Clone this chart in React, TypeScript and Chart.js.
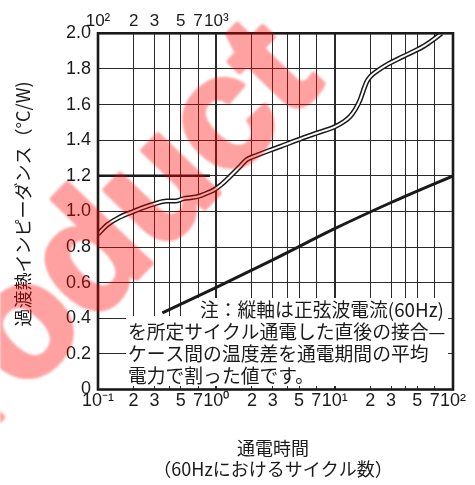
import React, { useEffect, useRef } from "react";
import { Chart, registerables } from "chart.js";

Chart.register(...registerables);

// Upper curve (transient thermal impedance), x = time (s), y = °C/W
const upperTime = [0.1, 0.12, 0.15, 0.2, 0.25, 0.3, 0.38, 0.45, 0.53, 0.62, 0.7, 0.8, 0.95, 1.1, 1.3, 1.6, 1.8, 2.2, 2.8, 3.5, 4.8, 7, 10, 12, 13.5, 15, 16.4, 17.5, 18.7, 20, 23, 27.5, 38, 56, 68, 80];
const upperImpedance = [0.873, 0.925, 0.965, 1.0, 1.025, 1.042, 1.058, 1.058, 1.072, 1.078, 1.084, 1.098, 1.12, 1.15, 1.195, 1.255, 1.29, 1.315, 1.342, 1.365, 1.4, 1.439, 1.475, 1.505, 1.533, 1.575, 1.626, 1.68, 1.729, 1.757, 1.79, 1.823, 1.87, 1.926, 1.964, 2.0];

// Lower straight curve
const lowerTime = [0.35, 1, 3, 10, 30, 100];
const lowerImpedance = [0.43, 0.573, 0.728, 0.903, 1.05, 1.2];

// Thick reference segment at 1.2
const refTime = [0.1, 0.885];
const refImpedance = [1.2, 1.2];

const xTickValues = [0.1, 0.2, 0.3, 0.4, 0.5, 0.7, 1, 2, 3, 4, 5, 7, 10, 20, 30, 40, 50, 70, 100];
const xTickLabels = ["10⁻¹", "2", "3", "", "5", "7", "10⁰", "2", "3", "", "5", "7", "10¹", "2", "3", "", "5", "7", "10²"];
const topTickValues = [100, 200, 300, 400, 500, 700, 1000];
const topTickLabels = ["10²", "2", "3", "", "5", "7", "10³"];
const yTickValues = [0, 0.2, 0.4, 0.6, 0.8, 1.0, 1.2, 1.4, 1.6, 1.8, 2.0];
const yTickLabels = ["0", "0.2", "0.4", "0.6", "0.8", "1.0", "1.2", "1.4", "1.6", "1.8", "2.0"];

const yTitle = "過渡熱インピーダンス（°C/W)";
const xTitleLines = ["通電時間", "（60Hzにおけるサイクル数）"];
const noteLines = [
  "注：縦軸は正弦波電流(60Hz)",
  "を所定サイクル通電した直後の接合—",
  "ケース間の温度差を通電期間の平均",
  "電力で割った値です。",
];
const watermarkText = "Product";

const INK = "#1a1a1a";
const CJK = '"Noto Sans CJK JP", "Noto Sans CJK SC", sans-serif';
const LATIN = '"Liberation Sans", Arial, sans-serif';

const toPoints = (xs: number[], ys: number[]) => xs.map((x, i) => ({ x, y: ys[i] }));

const decorPlugin = {
  id: "decor",
  beforeDatasetsDraw(chart: any) {
    const { ctx, chartArea: a } = chart;
    ctx.save();
    ctx.fillStyle = "#ffffff";
    const boxR = a.right - 5;
    ctx.fillRect(a.left + 100, a.bottom - 91.5, boxR - (a.left + 100), 18);
    ctx.fillRect(a.left + 28, a.bottom - 73.5, boxR - (a.left + 28), 70);
    ctx.fillStyle = INK;
    ctx.font = `18.8px ${CJK}`;
    ctx.textBaseline = "middle";
    ctx.textAlign = "left";
    const lh = 22;
    const y0 = a.bottom - 79.5;
    ctx.fillText(noteLines[0], a.left + 102, y0);
    for (let i = 1; i < noteLines.length; i++) {
      ctx.fillText(noteLines[i], a.left + 30, y0 + i * lh);
    }
    ctx.restore();
  },
  afterDatasetsDraw(chart: any) {
    const { ctx, chartArea: a } = chart;
    ctx.save();
    ctx.strokeStyle = INK;
    ctx.lineWidth = 2.6;
    ctx.strokeRect(a.left, a.top, a.right - a.left, a.bottom - a.top);
    ctx.restore();
  },
  afterDraw(chart: any) {
    const { ctx } = chart;
    ctx.save();
    ctx.fillStyle = INK;
    ctx.font = `18px ${CJK}`;
    ctx.textAlign = "center";
    ctx.textBaseline = "middle";
    ctx.save();
    ctx.translate(23, 204);
    ctx.rotate(-Math.PI / 2);
    ctx.fillText(yTitle, 0, 0);
    ctx.restore();
    const cx = 273;
    ctx.fillText(xTitleLines[0], cx, 448);
    ctx.fillText(xTitleLines[1], cx, 469);
    ctx.restore();

    // watermark (drawn opaque off-screen, then blended once)
    const w = chart.width;
    const h = chart.height;
    const off = document.createElement("canvas");
    off.width = w;
    off.height = h;
    const o = off.getContext("2d");
    if (!o) return;
    o.translate(86, 272);
    o.rotate((-46 * Math.PI) / 180);
    o.font = `bold 160px ${LATIN}`;
    o.textAlign = "center";
    o.textBaseline = "alphabetic";
    o.fillStyle = "#ff0000";
    o.strokeStyle = "#ff0000";
    o.lineWidth = 5;
    o.lineJoin = "round";
    o.fillText(watermarkText, 0, 41);
    o.strokeText(watermarkText, 0, 41);
    ctx.save();
    ctx.setTransform(1, 0, 0, 1, 0, 0);
    ctx.globalAlpha = 0.37;
    (ctx as any).filter = "blur(1px)";
    ctx.drawImage(off, 0, 0, off.width, off.height, 0, 0, ctx.canvas.width, ctx.canvas.height);
    ctx.restore();
  },
};

export default function App() {
  const canvasRef = useRef<HTMLCanvasElement | null>(null);

  useEffect(() => {
    if (!canvasRef.current) return;
    const chart = new Chart(canvasRef.current, {
      type: "line",
      data: {
        datasets: [
          {
            data: toPoints(upperTime, upperImpedance),
            borderColor: "#ffffff",
            borderWidth: 2,
            pointRadius: 0,
            cubicInterpolationMode: "monotone",
            order: 0,
            clip: 0,
          },
          {
            data: toPoints(upperTime, upperImpedance),
            borderColor: INK,
            borderWidth: 5,
            pointRadius: 0,
            cubicInterpolationMode: "monotone",
            order: 1,
            clip: 0,
          },
          {
            data: toPoints(lowerTime, lowerImpedance),
            borderColor: INK,
            borderWidth: 3,
            pointRadius: 0,
            cubicInterpolationMode: "monotone",
            order: 2,
            clip: 0,
          },
          {
            data: toPoints(refTime, refImpedance),
            borderColor: INK,
            borderWidth: 2.5,
            pointRadius: 0,
            order: 3,
            clip: 0,
          },
        ] as any,
      },
      options: {
        responsive: false,
        animation: false,
        devicePixelRatio: 1,
        events: [],
        layout: { padding: { left: 0, right: 22, top: 0, bottom: 0 } },
        plugins: { legend: { display: false }, tooltip: { enabled: false }, title: { display: false } },
        scales: {
          x: {
            type: "logarithmic",
            position: "bottom",
            min: 0.1,
            max: 100,
            afterBuildTicks: (scale: any) => {
              scale.ticks = xTickValues.map((v) => ({ value: v }));
            },
            afterFit: (scale: any) => {
              scale.height = 95.5;
            },
            ticks: {
              autoSkip: false,
              maxRotation: 0,
              padding: 1,
              color: INK,
              font: { family: LATIN, size: 18 },
              callback: (_v: any, i: number) => xTickLabels[i],
            },
            grid: {
              drawTicks: false,
              color: "#2a2a2a",
              lineWidth: (c: any) => (c.tick && (c.tick.value === 1 || c.tick.value === 10) ? 2 : 1),
            },
            border: { display: false },
          },
          x2: {
            type: "logarithmic",
            position: "top",
            min: 100,
            max: 100000,
            afterBuildTicks: (scale: any) => {
              scale.ticks = topTickValues.map((v) => ({ value: v }));
            },
            afterFit: (scale: any) => {
              scale.height = 33.3;
            },
            ticks: {
              autoSkip: false,
              maxRotation: 0,
              padding: 2,
              color: INK,
              font: { family: LATIN, size: 17 },
              callback: (_v: any, i: number) => topTickLabels[i],
            },
            grid: { display: false, drawTicks: false },
            border: { display: false },
          },
          y: {
            type: "linear",
            min: 0,
            max: 2,
            afterBuildTicks: (scale: any) => {
              scale.ticks = yTickValues.map((v) => ({ value: v }));
            },
            afterFit: (scale: any) => {
              scale.width = 98;
            },
            ticks: {
              autoSkip: false,
              padding: 7,
              color: INK,
              font: { family: LATIN, size: 18 },
              callback: (_v: any, i: number) => yTickLabels[i],
            },
            grid: { drawTicks: false, color: "#2a2a2a", lineWidth: 1 },
            border: { display: false },
          },
        },
      } as any,
      plugins: [decorPlugin],
    });
    return () => chart.destroy();
  }, []);

  return (
    <div style={{ position: "absolute", left: 0, top: 0, width: 475, height: 485, background: "#fff" }}>
      <canvas ref={canvasRef} width={475} height={485} style={{ width: 475, height: 485, display: "block" }} />
    </div>
  );
}
